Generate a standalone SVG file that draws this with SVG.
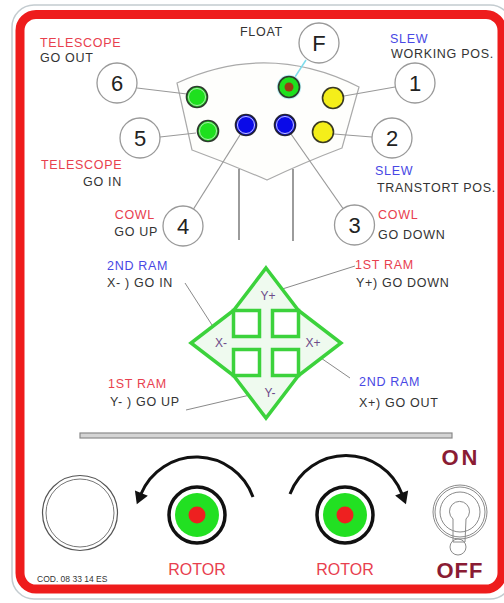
<svg xmlns="http://www.w3.org/2000/svg" width="504" height="603" viewBox="0 0 504 603">
<style>
text{font-family:"Liberation Sans",Arial,sans-serif;}
.lbl{font-size:12.5px;letter-spacing:0.7px;fill:#333;}
.red{fill:#e8404e;}
.blue{fill:#4848e4;}
.num{font-size:22px;fill:#222;text-anchor:middle;}
.nc{fill:#fff;stroke:#999;stroke-width:1.3;}
.conn{stroke:#999;stroke-width:1.2;fill:none;}
.lead{stroke:#8a8a8a;stroke-width:1;fill:none;}
.ring{stroke:#2e3a2e;stroke-width:1.6;}
.inner{fill:none;stroke:#d8e8d8;stroke-width:0.8;}
.xl{font-size:12px;fill:#6e4a8a;text-anchor:middle;}
.grn{stroke:#3cd23c;stroke-width:3.5;}
.sw{fill:none;stroke:#8a8a8a;stroke-width:1;}
.big{font-size:22px;font-weight:bold;fill:#8a1c34;text-anchor:middle;}
</style>
<defs>
<marker id="ah" markerUnits="userSpaceOnUse" markerWidth="14" markerHeight="16" viewBox="0 -8 13 16" refX="1" refY="0" orient="auto">
<path d="M0,-7 L12,0 L0,7 z" fill="#111"/>
</marker>
</defs>
<rect width="504" height="603" fill="#fff"/>
<g id="frame">
<rect x="12" y="5" width="500" height="594" rx="22" fill="none" stroke="#c4ccd0" stroke-width="1.5"/>
<rect x="20" y="14.5" width="482" height="574.5" rx="16" fill="#fff" stroke="#ee1c1c" stroke-width="9"/>
</g>
<g id="panel">
<path d="M177,83 Q268,41 359,87 L342,148 Q305,162 267,180 Q230,164 192,150 Z" fill="#fefefc" stroke="#aaa" stroke-width="1.2"/>
<line x1="239" y1="169" x2="239" y2="240" stroke="#666" stroke-width="1.3"/>
<line x1="293" y1="169" x2="293" y2="241" stroke="#666" stroke-width="1.3"/>
</g>
<g id="connectors">
<line class="conn" x1="137" y1="88" x2="187" y2="94"/>
<line class="conn" x1="160" y1="137" x2="196" y2="133"/>
<line x1="306" y1="60" x2="295" y2="77" stroke="#7fdcec" stroke-width="1.5"/>
<line class="conn" x1="395" y1="87" x2="344" y2="96"/>
<line class="conn" x1="372" y1="137" x2="334" y2="134"/>
<line class="conn" x1="193.5" y1="209" x2="240" y2="135"/>
<line class="conn" x1="291" y1="134" x2="343" y2="208.5"/>
<line class="lead" x1="185" y1="283" x2="212" y2="325"/>
<line class="lead" x1="355" y1="266" x2="276" y2="291"/>
<line class="lead" x1="186" y1="410" x2="250" y2="395"/>
<line class="lead" x1="350" y1="378" x2="318" y2="356"/>
</g>
<g id="led-6"><circle cx="197" cy="97" r="10.5" fill="#1ee01e" class="ring"/><circle cx="197" cy="97" r="8.5" class="inner"/></g>
<g id="led-5"><circle cx="208" cy="131" r="10.5" fill="#1ee01e" class="ring"/><circle cx="208" cy="131" r="8.5" class="inner"/></g>
<g id="led-4"><circle cx="246" cy="125" r="10.5" fill="#0a0ae8" stroke="#223" stroke-width="1.6"/><circle cx="246" cy="125" r="8.5" fill="none" stroke="#c8c8ff" stroke-width="1"/></g>
<g id="led-3"><circle cx="285" cy="125" r="10.5" fill="#0a0ae8" stroke="#223" stroke-width="1.6"/><circle cx="285" cy="125" r="8.5" fill="none" stroke="#c8c8ff" stroke-width="1"/></g>
<g id="led-f"><circle cx="289" cy="87" r="11.5" fill="none" stroke="#bff0f6" stroke-width="1.5"/><circle cx="289" cy="87" r="10.5" fill="#1ee01e" class="ring"/><circle cx="289" cy="87" r="4.5" fill="#9a3a14"/></g>
<g id="led-1"><circle cx="333" cy="98" r="10.5" fill="#f4ee1a" stroke="#3a3a22" stroke-width="1.6"/></g>
<g id="led-2"><circle cx="323" cy="132" r="10.5" fill="#f4ee1a" stroke="#3a3a22" stroke-width="1.6"/></g>
<g id="num-6"><circle class="nc" cx="117" cy="83" r="20"/><text class="num" x="117" y="91">6</text></g>
<g id="num-5"><circle class="nc" cx="140" cy="138" r="20"/><text class="num" x="140" y="146">5</text></g>
<g id="num-f"><circle class="nc" cx="319" cy="43" r="20"/><text class="num" x="319" y="51">F</text></g>
<g id="num-1"><circle class="nc" cx="415" cy="83" r="20"/><text class="num" x="415" y="91">1</text></g>
<g id="num-2"><circle class="nc" cx="392" cy="138" r="20"/><text class="num" x="392" y="146">2</text></g>
<g id="num-4"><circle class="nc" cx="183" cy="226" r="20"/><text class="num" x="183" y="234">4</text></g>
<g id="num-3"><circle class="nc" cx="354.5" cy="225" r="20"/><text class="num" x="354.5" y="233">3</text></g>
<g id="labels">
<text class="lbl red" x="40" y="47">TELESCOPE</text>
<text class="lbl" x="40" y="62">GO OUT</text>
<text class="lbl" x="240" y="36">FLOAT</text>
<text class="lbl blue" x="390" y="43">SLEW</text>
<text class="lbl" x="391" y="58">WORKING POS.</text>
<text class="lbl red" x="41" y="169">TELESCOPE</text>
<text class="lbl" x="122" y="186" text-anchor="end">GO IN</text>
<text class="lbl blue" x="375" y="175">SLEW</text>
<text class="lbl" x="377" y="192">TRANSTORT POS.</text>
<text class="lbl red" x="155" y="219" text-anchor="end">COWL</text>
<text class="lbl" x="158" y="236" text-anchor="end">GO UP</text>
<text class="lbl red" x="378" y="219">COWL</text>
<text class="lbl" x="378" y="239">GO DOWN</text>
<text class="lbl blue" x="107" y="270">2ND RAM</text>
<text class="lbl" x="107" y="287">X- ) GO IN</text>
<text class="lbl red" x="355" y="269">1ST RAM</text>
<text class="lbl" x="356" y="287">Y+) GO DOWN</text>
<text class="lbl red" x="108" y="388">1ST RAM</text>
<text class="lbl" x="110" y="406">Y- ) GO UP</text>
<text class="lbl blue" x="359" y="386">2ND RAM</text>
<text class="lbl" x="359" y="407">X+) GO OUT</text>
</g>
<g id="cross">
<polygon class="grn" points="266,268 298.5,310.5 341,343 298.5,375.5 266,418 233.5,375.5 191,343 233.5,310.5" fill="#effaef" stroke-linejoin="miter"/>
<rect class="grn" x="233.5" y="310.5" width="26" height="26" fill="#fff"/>
<rect class="grn" x="272.5" y="310.5" width="26" height="26" fill="#fff"/>
<rect class="grn" x="233.5" y="349.5" width="26" height="26" fill="#fff"/>
<rect class="grn" x="272.5" y="349.5" width="26" height="26" fill="#fff"/>
<text class="xl" x="268" y="300">Y+</text>
<text class="xl" x="221" y="347">X-</text>
<text class="xl" x="313" y="347">X+</text>
<text class="xl" x="270" y="397">Y-</text>
</g>
<g id="separator">
<rect x="80" y="433" width="372" height="5" fill="#d4d4d4" stroke="#8a8a8a" stroke-width="1.2"/>
</g>
<g id="lamp">
<circle cx="80" cy="513" r="37.5" fill="#fff" stroke="#555" stroke-width="1.2"/>
<circle cx="80" cy="513" r="34" fill="none" stroke="#777" stroke-width="1"/>
</g>
<g id="rotor-left">
<circle cx="197" cy="515" r="28" fill="#fff" stroke="#111" stroke-width="3.5"/>
<circle cx="197" cy="515" r="22" fill="#22e022"/>
<circle cx="197" cy="515" r="8.5" fill="#ee2020"/>
<text x="197" y="575" font-size="16" fill="#e8404e" text-anchor="middle">ROTOR</text>
</g>
<g id="rotor-right">
<circle cx="345" cy="515" r="28" fill="#fff" stroke="#111" stroke-width="3.5"/>
<circle cx="345" cy="515" r="22" fill="#22e022"/>
<circle cx="345" cy="515" r="8.5" fill="#ee2020"/>
<text x="345" y="575" font-size="16" fill="#e8404e" text-anchor="middle">ROTOR</text>
</g>
<g id="rotation-arrows">
<path d="M253,497 A60,60 0 0 0 141,494" fill="none" stroke="#111" stroke-width="3" marker-end="url(#ah)"/>
<path d="M290,494 A60,60 0 0 1 402,494" fill="none" stroke="#111" stroke-width="3" marker-end="url(#ah)"/>
</g>
<g id="switch">
<text class="big" x="461" y="465" letter-spacing="3">ON</text>
<circle class="sw" cx="460" cy="512" r="27"/>
<circle class="sw" cx="460" cy="512" r="25"/>
<circle class="sw" cx="460" cy="512" r="20"/>
<path class="sw" d="M453,519 A10,10 0 1 1 466,519 L465,542 L453,542 Z"/>
<circle class="sw" cx="458" cy="547" r="8" fill="#fff"/>
<text class="big" x="460" y="578" letter-spacing="1">OFF</text>
</g>
<text x="37" y="582" font-size="8.5" fill="#333">COD. 08 33 14 ES</text>
</svg>
